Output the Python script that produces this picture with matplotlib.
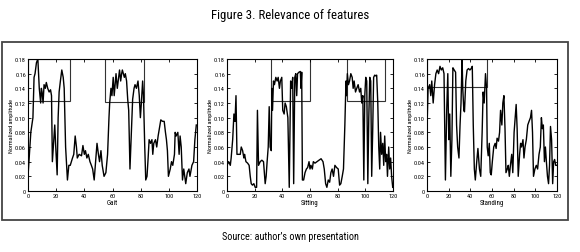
import numpy as np
import matplotlib
matplotlib.use("Agg")
from matplotlib import pyplot as plt
from matplotlib.patches import Rectangle
import logging
logging.getLogger('matplotlib.font_manager').setLevel(logging.ERROR)

plt.rcParams['font.family'] = ['Liberation Sans Narrow', 'Roboto Condensed',
                               'DejaVu Sans Condensed', 'DejaVu Sans']

# Gait
gait_x = [0, 1, 2, 3.5, 4.3, 5, 6, 7, 8, 9, 9.5, 10, 10.7, 11.4, 12.3, 13, 14, 15, 16, 16.7,
          17.3, 18.3, 19, 19.7, 20.7, 21.4, 22.1, 23, 24, 25, 25.7, 26.7, 28, 29, 30, 31.6, 32.5,
          33.5, 34.4, 35, 36.3, 38, 39, 40, 40.8, 41.8, 42.8, 44, 45, 45.9, 47, 48, 49, 50,
          50.8, 51.8, 52.7, 54, 55.3, 56.5, 57.5, 58, 58.9, 59.6, 60.5, 61.2, 62.5, 63.4, 65,
          65.8, 66.5, 67, 68.4, 69.1, 70, 70.8, 71.5, 72.4, 73.4, 74.3, 75.3, 76, 77, 78.1,
          79, 79.8, 80.5, 81.4, 82, 82.9, 83.6, 84.5, 85.3, 86, 87, 88, 88.6, 89.3, 90.5,
          91.4, 92.4, 93.3, 94.3, 95.5, 96.7, 97.6, 98.3, 99, 99.7, 101, 101.9, 102.8, 104,
          104.5, 105.2, 106.4, 107.3, 108, 108.8, 109.7, 110.6, 112, 113.1, 114.3, 115,
          116.4, 117.6, 118.5, 119.5]
gait_y = [0.02, 0.05, 0.08, 0.10, 0.155, 0.16, 0.175, 0.18, 0.14, 0.12, 0.14, 0.135, 0.12,
          0.145, 0.14, 0.148, 0.14, 0.135, 0.138, 0.13, 0.04, 0.07, 0.09, 0.06, 0.022, 0.10,
          0.135, 0.15, 0.165, 0.155, 0.14, 0.06, 0.015, 0.035, 0.035, 0.045, 0.05, 0.075, 0.06,
          0.045, 0.05, 0.048, 0.062, 0.05, 0.055, 0.045, 0.05, 0.04, 0.035, 0.03, 0.015, 0.04,
          0.065, 0.05, 0.04, 0.055, 0.035, 0.02, 0.025, 0.05, 0.10, 0.12, 0.14, 0.13, 0.155,
          0.13, 0.16, 0.14, 0.165, 0.15, 0.16, 0.165, 0.155, 0.16, 0.15, 0.125, 0.11, 0.03,
          0.08, 0.125, 0.14, 0.145, 0.14, 0.15, 0.13, 0.10, 0.12, 0.15, 0.13, 0.06, 0.015,
          0.02, 0.045, 0.07, 0.065, 0.07, 0.05, 0.065, 0.07, 0.06, 0.075, 0.085, 0.097, 0.095,
          0.095, 0.08, 0.07, 0.055, 0.02, 0.03, 0.04, 0.035, 0.05, 0.08, 0.075, 0.08, 0.05,
          0.075, 0.06, 0.015, 0.03, 0.01, 0.025, 0.03, 0.02, 0.035, 0.04, 0.07, 0.09]
gait_boxes = [(0, 30, 0.123), (55, 82.5, 0.121)]

# Sitting
sit_x = [0, 1.2, 2.4, 3, 4.1, 5, 5.8, 6.5, 7.2, 8.4, 9.6, 10.3, 11.3, 12.2, 12.7, 13.7,
         14.9, 16, 16.8, 17.5, 18.4, 19.4, 20.4, 21.4, 22, 22.8, 24, 25.2, 26.4, 27.6, 28.3,
         29, 29.8, 30.5, 31.2, 32, 32.4, 32.9, 33.6, 34.3, 35.3, 36.2, 37, 37.9, 38.6, 39.6,
         40.3, 41.3, 42, 42.9, 44, 44.6, 45, 46, 46.7, 47.5, 48.2, 49, 49.7, 50.4, 51, 52,
         53, 53.5, 54, 54.5, 55.4, 56.4, 57.4, 58.3, 59.3, 60, 60.7, 61.7, 62.4, 63.6, 65,
         66.5, 68, 69.4, 70.3, 71.3, 72.2, 73.2, 74.2, 75.1, 76, 77, 78, 79.2, 80.4, 81.4,
         82.3, 83.3, 84.2, 85.2, 86, 86.4, 87, 87.8, 88.6, 89.5, 90.5, 91.2, 91.9, 92.9,
         93.8, 94.8, 95.8, 96.7, 97.4, 98.2, 98.9, 99.6, 100.3, 101, 101.8, 102.5, 103.2,
         103.9, 104.6, 105.3, 106, 106.8, 107.5, 108.2, 109, 109.7, 110.4, 111, 111.8,
         112.6, 113.3, 114, 114.7, 115.4, 116, 116.9, 117.6, 118.3, 119, 119.8]
sit_y = [0.035, 0.04, 0.035, 0.045, 0.07, 0.105, 0.095, 0.13, 0.05, 0.05, 0.05, 0.06, 0.055,
         0.045, 0.05, 0.04, 0.038, 0.035, 0.02, 0.01, 0.008, 0.01, 0.005, 0.005, 0.11, 0.035,
         0.04, 0.042, 0.04, 0.01, 0.02, 0.04, 0.06, 0.115, 0.06, 0.055, 0.14, 0.11, 0.15, 0.145,
         0.155, 0.15, 0.155, 0.14, 0.15, 0.155, 0.11, 0.105, 0.12, 0.115, 0.10, 0.04, 0.005,
         0.15, 0.14, 0.155, 0.01, 0.155, 0.16, 0.13, 0.16, 0.162, 0.163, 0.14, 0.162, 0.015,
         0.015, 0.025, 0.03, 0.032, 0.04, 0.03, 0.035, 0.03, 0.04, 0.038, 0.04, 0.042, 0.044,
         0.04, 0.03, 0.01, 0.005, 0.015, 0.012, 0.025, 0.03, 0.02, 0.035, 0.032, 0.03, 0.008,
         0.01, 0.02, 0.03, 0.09, 0.15, 0.13, 0.16, 0.145, 0.15, 0.16, 0.155, 0.14, 0.15, 0.135,
         0.14, 0.145, 0.135, 0.14, 0.12, 0.13, 0.015, 0.13, 0.155, 0.15, 0.01, 0.10, 0.155,
         0.15, 0.02, 0.08, 0.155, 0.158, 0.157, 0.158, 0.12, 0.06, 0.03, 0.08, 0.05, 0.065,
         0.035, 0.075, 0.04, 0.05, 0.02, 0.06, 0.03, 0.045, 0.02, 0.005]
sit_boxes = [(32, 60, 0.123), (86.4, 114.5, 0.123)]

# Standing
stand_x = [0, 1, 2.5, 3.5, 4.4, 5.7, 7, 8.2, 9.4, 10.7, 12, 13.2, 14.5, 15.7, 17, 18.2, 19.2,
           20.1, 21, 22, 23, 23.9, 25.1, 26.4, 27.3, 28.3, 29.5, 30.5, 31.4, 32.4, 33, 34,
           34.6, 35.8, 37, 38.3, 39.6, 40.8, 41.8, 42.7, 43.7, 44.6, 45.9, 47, 48.4, 49.6,
           50.9, 51.8, 52.8, 54, 55, 55.6, 56.5, 57.5, 58.4, 59.3, 60.3, 61.6, 62.9, 63.8,
           64.7, 66, 67, 67.9, 69.1, 70, 71, 72, 72.9, 74.1, 75, 76, 77, 78.2, 79.2, 80.4,
           81.4, 82.3, 83.2, 84.2, 85.5, 86.4, 87.3, 88.6, 89.5, 90.5, 91.7, 93, 94.2, 95.5,
           96.5, 97.4, 98.3, 99.6, 100.9, 102.1, 103.4, 104.6, 105.6, 106.5, 107.4, 108.4,
           109.3, 110.3, 111.2, 112.2, 113.1, 114, 115, 116, 116.9, 117.8, 118.8, 120]
stand_y = [0.085, 0.14, 0.145, 0.13, 0.15, 0.12, 0.145, 0.16, 0.165, 0.16, 0.17, 0.165, 0.168,
           0.16, 0.015, 0.11, 0.16, 0.07, 0.105, 0.02, 0.07, 0.168, 0.165, 0.162, 0.09, 0.06,
           0.045, 0.09, 0.12, 0.18, 0.14, 0.11, 0.108, 0.15, 0.165, 0.167, 0.165, 0.167, 0.17,
           0.09, 0.03, 0.015, 0.04, 0.058, 0.03, 0.02, 0.08, 0.135, 0.12, 0.16, 0.14, 0.06,
           0.048, 0.065, 0.025, 0.022, 0.04, 0.06, 0.065, 0.058, 0.072, 0.068, 0.08, 0.11,
           0.09, 0.12, 0.13, 0.085, 0.025, 0.03, 0.035, 0.02, 0.035, 0.05, 0.025, 0.08, 0.10,
           0.118, 0.085, 0.02, 0.05, 0.065, 0.06, 0.07, 0.045, 0.06, 0.07, 0.09, 0.095, 0.10,
           0.11, 0.08, 0.02, 0.03, 0.035, 0.03, 0.05, 0.06, 0.10, 0.085, 0.09, 0.04, 0.06,
           0.038, 0.02, 0.01, 0.035, 0.088, 0.07, 0.01, 0.04, 0.043, 0.035, 0.035]
stand_boxes = [(0, 55.6, 0.142)]

panels = [
    (gait_x, gait_y, gait_boxes, "Gait", [28, 197]),
    (sit_x, sit_y, sit_boxes, "Sitting", [227, 393]),
    (stand_x, stand_y, stand_boxes, "Standing", [427, 557]),
]

W, H = 580, 253
fig = plt.figure(figsize=(W / 100, H / 100), dpi=100)

# outer frame
fig.patches.append(Rectangle((2 / W, 1 - 221 / H), 566 / W, 178 / H, transform=fig.transFigure,
                             fill=False, edgecolor='#444444', linewidth=1.3))

fig.text(0.5, 1 - 16 / H, "Figure 3. Relevance of features", ha='center', va='center',
         fontsize=9.3, fontstretch='condensed')
fig.text(0.5, 1 - 237 / H, "Source: author\u2019s own presentation", ha='center', va='center',
         fontsize=7.3, fontstretch='condensed')

for x, y, boxes, label, (l, r) in panels:
    ax = fig.add_axes([l / W, 1 - 192 / H, (r - l) / W, 132 / H])
    ax.plot(x, y, color='black', linewidth=1.0)
    for x0, x1, y0 in boxes:
        ax.add_patch(Rectangle((x0, y0), x1 - x0, 0.18 - y0, fill=False,
                               edgecolor='#333333', linewidth=0.8))
    ax.set_xlim(0, 120)
    ax.set_ylim(0, 0.18)
    ax.set_xticks(np.arange(0, 121, 20))
    ax.set_yticks(np.arange(0, 0.181, 0.02))
    ax.set_yticklabels(["0"] + ["%.2f" % v for v in np.arange(0.02, 0.181, 0.02)])
    ax.tick_params(direction='in', length=2.5, width=0.6, labelsize=4.5, pad=1.5,
                   top=True, right=True)
    ax.set_xlabel(label, fontsize=5, labelpad=1)
    ax.set_ylabel("Normalized amplitude", fontsize=4.5, labelpad=1)
    for s in ax.spines.values():
        s.set_linewidth(0.8)

plt.savefig("out.png", dpi=100)
